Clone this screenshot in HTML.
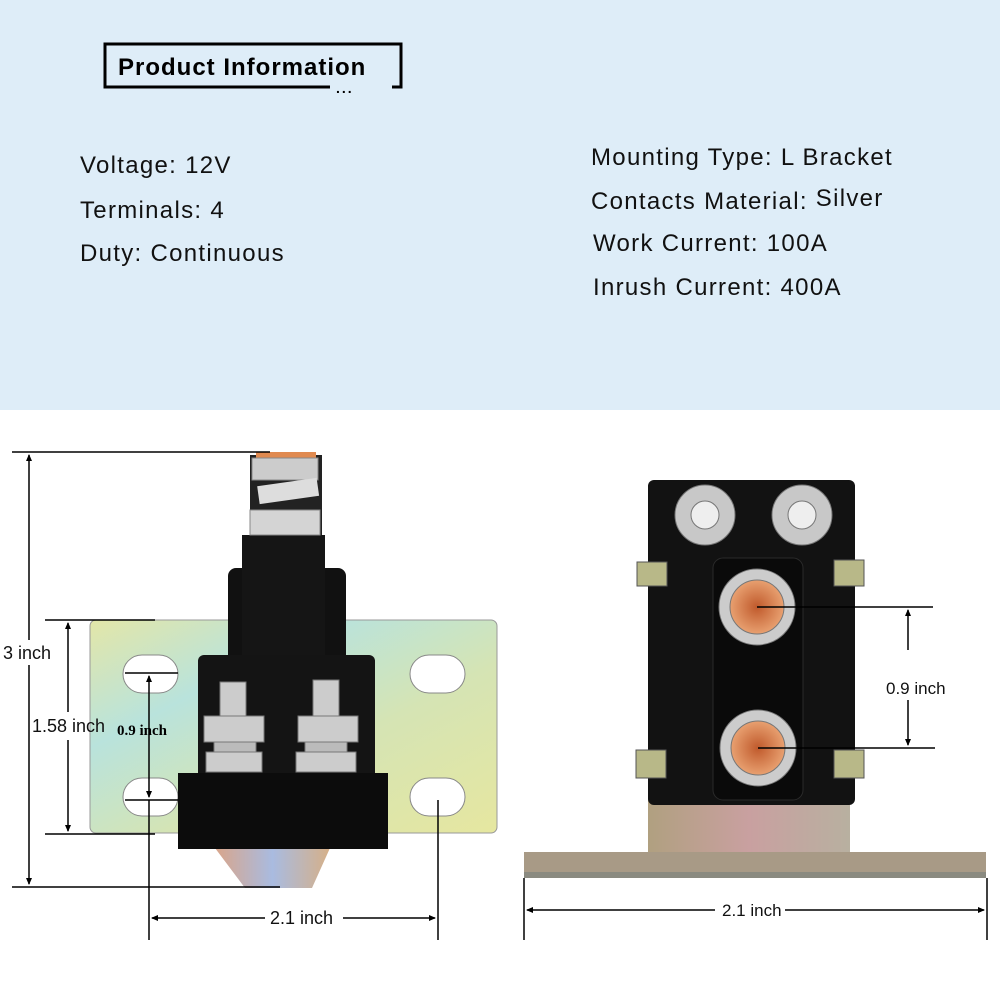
<!DOCTYPE html>
<html><head><meta charset="utf-8"><style>
body{margin:0;width:1000px;height:1000px;overflow:hidden;background:#fff;font-family:"Liberation Sans",sans-serif}
</style></head><body>
<svg width="1000" height="1000" viewBox="0 0 1000 1000" xmlns="http://www.w3.org/2000/svg">
<defs>
<linearGradient id="br" x1="0" y1="0" x2="1" y2="1">
<stop offset="0" stop-color="#e3e6a8"/><stop offset="0.3" stop-color="#b9e3dc"/><stop offset="0.6" stop-color="#d5e4b4"/><stop offset="1" stop-color="#e6e7a0"/></linearGradient>
<linearGradient id="bp" x1="0" y1="0" x2="1" y2="0">
<stop offset="0" stop-color="#d9a58a"/><stop offset="0.5" stop-color="#a9bbe0"/><stop offset="1" stop-color="#d6b088"/></linearGradient>
<linearGradient id="pl" x1="0" y1="0" x2="1" y2="0">
<stop offset="0" stop-color="#b0a080"/><stop offset="0.5" stop-color="#c9a0a0"/><stop offset="1" stop-color="#b8b0a0"/></linearGradient>
<radialGradient id="cu"><stop offset="0" stop-color="#c05a2c"/><stop offset="1" stop-color="#e8a070"/></radialGradient>
<marker id="a" markerWidth="7" markerHeight="6" refX="6" refY="3" orient="auto-start-reverse" markerUnits="userSpaceOnUse"><path d="M0,0 L7,3 L0,6 z" fill="#000"/></marker>
</defs>
<rect x="0" y="0" width="1000" height="410" fill="#deedf8"/>
<path d="M330,87 H105 V44 H401 V87 H392" fill="none" stroke="#000" stroke-width="3"/>
<text x="336" y="93" font-size="14" font-weight="bold" letter-spacing="2">...</text>
<text x="118" y="75" font-size="24" font-weight="bold" letter-spacing="1">Product Information</text>
<g font-size="24" fill="#111" letter-spacing="1.3">
<text x="80" y="173">Voltage: 12V</text>
<text x="80" y="218">Terminals: 4</text>
<text x="80" y="261">Duty:  Continuous</text>
<text x="591" y="165">Mounting Type: L Bracket</text>
<text x="591" y="209">Contacts Material: <tspan dy="-3">Silver</tspan></text>
<text x="593" y="251">Work Current: 100A</text>
<text x="593" y="295">Inrush Current: 400A</text>
</g>
<!-- left device -->
<rect x="90" y="620" width="407" height="213" rx="6" fill="url(#br)" stroke="#999"/>
<g fill="#fff" stroke="#888">
<rect x="123" y="655" width="55" height="38" rx="19"/><rect x="410" y="655" width="55" height="38" rx="19"/>
<rect x="123" y="778" width="55" height="38" rx="19"/><rect x="410" y="778" width="55" height="38" rx="19"/>
</g>
<path d="M215,848 L330,848 L312,888 L245,888 Z" fill="url(#bp)"/>
<rect x="228" y="568" width="118" height="100" rx="8" fill="#111"/>
<rect x="242" y="535" width="83" height="140" fill="#151515"/>
<rect x="198" y="655" width="177" height="125" rx="6" fill="#141414"/>
<rect x="178" y="773" width="210" height="76" fill="#0c0c0c"/>
<rect x="250" y="455" width="72" height="80" fill="#222"/>
<rect x="256" y="452" width="60" height="8" fill="#e08a50"/>
<rect x="252" y="458" width="66" height="22" fill="#ccc" stroke="#888"/>
<rect x="258" y="482" width="60" height="18" fill="#ddd" transform="rotate(-8 288 490)"/>
<rect x="250" y="510" width="70" height="25" fill="#d4d4d4" stroke="#888"/>
<g fill="#ccc" stroke="#777">
<rect x="220" y="682" width="26" height="34"/><rect x="313" y="680" width="26" height="36"/>
<rect x="204" y="716" width="60" height="26"/><rect x="298" y="716" width="60" height="26"/>
<rect x="214" y="742" width="42" height="10" fill="#bbb"/><rect x="305" y="742" width="42" height="10" fill="#bbb"/>
<rect x="206" y="752" width="56" height="20"/><rect x="296" y="752" width="60" height="20"/>
</g>
<g stroke="#000" stroke-width="1.5" fill="none">
<line x1="12" y1="452" x2="270" y2="452"/><line x1="12" y1="887" x2="280" y2="887"/>
<line x1="29" y1="455" x2="29" y2="640" marker-start="url(#a)"/><line x1="29" y1="665" x2="29" y2="884" marker-end="url(#a)"/>
<line x1="45" y1="620" x2="155" y2="620"/><line x1="45" y1="834" x2="155" y2="834"/>
<line x1="68" y1="623" x2="68" y2="712" marker-start="url(#a)"/><line x1="68" y1="740" x2="68" y2="831" marker-end="url(#a)"/>
<line x1="125" y1="673" x2="178" y2="673"/><line x1="125" y1="800" x2="178" y2="800"/>
<line x1="149" y1="676" x2="149" y2="797" marker-start="url(#a)" marker-end="url(#a)"/>
<line x1="149" y1="800" x2="149" y2="940"/><line x1="438" y1="800" x2="438" y2="940"/>
<line x1="152" y1="918" x2="265" y2="918" marker-start="url(#a)"/><line x1="343" y1="918" x2="435" y2="918" marker-end="url(#a)"/>
</g>
<g font-size="18" fill="#111">
<text x="3" y="659">3 inch</text>
<text x="32" y="732">1.58 inch</text>
<text x="270" y="924">2.1 inch</text>
</g>
<text x="117" y="735" font-family="Liberation Serif,serif" font-weight="bold" font-size="15">0.9 inch</text>
<!-- right device -->
<rect x="648" y="800" width="202" height="55" fill="url(#pl)"/>
<rect x="524" y="852" width="462" height="26" fill="#a89a86"/>
<rect x="524" y="872" width="462" height="6" fill="#8a8a80"/>
<rect x="648" y="480" width="207" height="325" rx="6" fill="#121212"/>
<g fill="#b8b888" stroke="#555">
<rect x="637" y="562" width="30" height="24"/><rect x="834" y="560" width="30" height="26"/>
<rect x="636" y="750" width="30" height="28"/><rect x="834" y="750" width="30" height="28"/>
</g>
<rect x="713" y="558" width="90" height="242" rx="10" fill="#0a0a0a" stroke="#2a2a2a"/>
<g stroke="#777"><circle cx="705" cy="515" r="30" fill="#c8c8c8"/><circle cx="705" cy="515" r="14" fill="#eee"/>
<circle cx="802" cy="515" r="30" fill="#c8c8c8"/><circle cx="802" cy="515" r="14" fill="#eee"/>
<circle cx="757" cy="607" r="38" fill="#ccc"/><circle cx="757" cy="607" r="27" fill="url(#cu)"/>
<circle cx="758" cy="748" r="38" fill="#ccc"/><circle cx="758" cy="748" r="27" fill="url(#cu)"/></g>
<g stroke="#000" stroke-width="1.5" fill="none">
<line x1="757" y1="607" x2="933" y2="607"/><line x1="758" y1="748" x2="935" y2="748"/>
<line x1="908" y1="610" x2="908" y2="650" marker-start="url(#a)"/><line x1="908" y1="700" x2="908" y2="745" marker-end="url(#a)"/>
<line x1="524" y1="878" x2="524" y2="940"/><line x1="987" y1="878" x2="987" y2="940"/>
<line x1="527" y1="910" x2="715" y2="910" marker-start="url(#a)"/><line x1="785" y1="910" x2="984" y2="910" marker-end="url(#a)"/>
</g>
<text x="886" y="694" font-size="17" fill="#111">0.9 inch</text>
<text x="722" y="916" font-size="17" fill="#111">2.1 inch</text>
</svg>
</body></html>
